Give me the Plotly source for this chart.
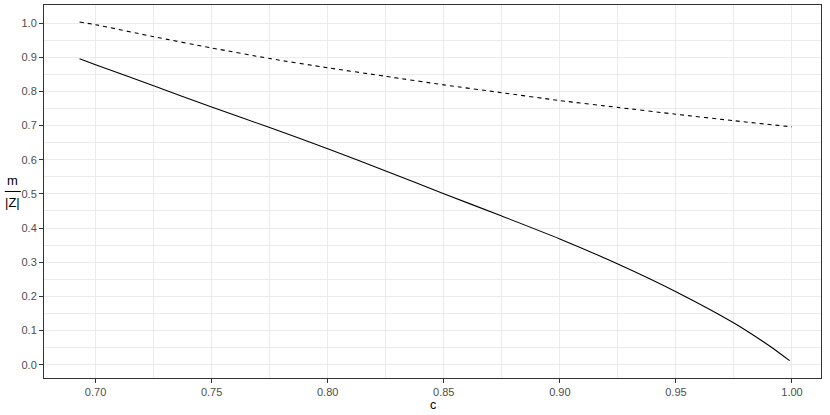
import plotly.graph_objects as go

# Data
c_dashed = [0.6931, 0.70, 0.725, 0.75, 0.775, 0.80, 0.825, 0.85, 0.875, 0.90, 0.925, 0.95, 0.975, 1.00]
y_dashed = [1.003, 0.995, 0.960, 0.927, 0.896, 0.869, 0.844, 0.819, 0.796, 0.773, 0.753, 0.733, 0.714, 0.696]

c_solid = [0.6931, 0.70, 0.725, 0.75, 0.775, 0.80, 0.825, 0.85, 0.875, 0.90, 0.925, 0.95, 0.975, 0.9875, 0.9922, 0.999]
y_solid = [0.8955, 0.878, 0.8165, 0.754, 0.694, 0.632, 0.567, 0.5004, 0.435, 0.368, 0.2946, 0.2136, 0.122, 0.068, 0.046, 0.0117]

x_ticks = [0.70, 0.75, 0.80, 0.85, 0.90, 0.95, 1.00]
x_tick_labels = ["0.70", "0.75", "0.80", "0.85", "0.90", "0.95", "1.00"]
y_ticks = [0.0, 0.1, 0.2, 0.3, 0.4, 0.5, 0.6, 0.7, 0.8, 0.9, 1.0]
y_tick_labels = ["0.0", "0.1", "0.2", "0.3", "0.4", "0.5", "0.6", "0.7", "0.8", "0.9", "1.0"]

FONT = "Liberation Sans, Arial, sans-serif"

fig = go.Figure()
fig.add_trace(go.Scatter(x=c_dashed, y=y_dashed, mode="lines",
                         line=dict(color="black", width=1.1, dash="4px,4px", shape="spline", smoothing=0.6),
                         showlegend=False, hoverinfo="skip"))
fig.add_trace(go.Scatter(x=c_solid, y=y_solid, mode="lines",
                         line=dict(color="black", width=1.1, shape="spline", smoothing=0.6),
                         showlegend=False, hoverinfo="skip"))

axis_common = dict(
    showline=True, linecolor="#333333", linewidth=1, mirror=True,
    ticks="outside", ticklen=4, tickcolor="#333333", tickwidth=1,
    showgrid=True, gridcolor="#EBEBEB", gridwidth=1.1,
    zeroline=False, automargin=False,
    tickfont=dict(family=FONT, size=11, color="#4D4D4D"),
)

fig.update_xaxes(
    range=[0.6778, 1.0125],
    tickvals=x_ticks, ticktext=x_tick_labels,
    minor=dict(showgrid=True, gridcolor="#EBEBEB", gridwidth=0.55, tick0=0.675, dtick=0.05, ticks=""),
    **axis_common,
)
fig.update_yaxes(
    range=[-0.039, 1.0527],
    tickvals=y_ticks, ticktext=y_tick_labels,
    minor=dict(showgrid=True, gridcolor="#EBEBEB", gridwidth=0.55, tick0=0.05, dtick=0.1, ticks=""),
    **axis_common,
)

# x-axis title
fig.add_annotation(text="c", xref="paper", yref="paper", x=0.5, y=-0.047,
                   xanchor="center", yanchor="top", showarrow=False,
                   font=dict(family=FONT, size=12.5, color="black"))

# y-axis title as a fraction m / |Z|
fig.add_annotation(text="m", xref="paper", yref="paper", x=-0.04, y=0.503,
                   xanchor="center", yanchor="bottom", showarrow=False,
                   font=dict(family=FONT, size=13, color="black"))
fig.add_annotation(text="|Z|", xref="paper", yref="paper", x=-0.04, y=0.497,
                   xanchor="center", yanchor="top", showarrow=False,
                   font=dict(family=FONT, size=13, color="black"))
fig.add_shape(type="line", xref="paper", yref="paper",
              x0=-0.0505, x1=-0.0298, y0=0.5, y1=0.5,
              line=dict(color="black", width=1))

fig.update_layout(
    width=830, height=415,
    margin=dict(l=44, r=9, t=5, b=37),
    paper_bgcolor="white", plot_bgcolor="white",
    font=dict(family=FONT),
)

fig.write_html("out.html", config={"displayModeBar": False},
               post_script="document.body.style.margin='0';document.body.style.overflow='hidden';")
